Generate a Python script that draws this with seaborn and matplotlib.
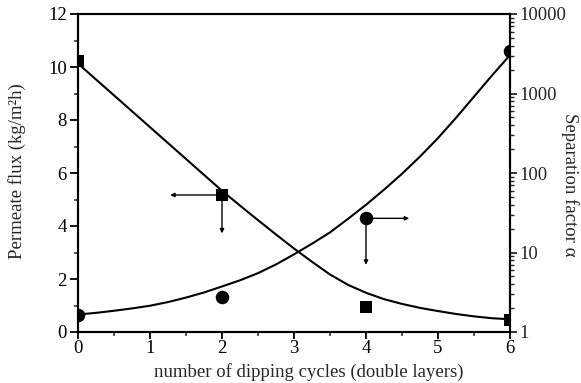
import matplotlib
matplotlib.use("Agg")
import matplotlib.pyplot as plt
import matplotlib.ticker as mticker
import numpy as np
import pandas as pd
import seaborn as sns

# ---- data ----
cycles = [0, 2, 4, 6]
flux = [10.23, 5.17, 0.95, 0.45]            # kg/m2h (squares, left axis)
sep_factor = [1.63, 2.78, 26.9, 3430]        # separation factor (circles, right axis)

# fitted curves, every 0.25 cycle
curve_x = [0, 0.25, 0.5, 0.75, 1, 1.25, 1.5, 1.75, 2, 2.25, 2.5, 2.75, 3,
           3.25, 3.5, 3.75, 4, 4.25, 4.5, 4.75, 5, 5.25, 5.5, 5.75, 6]
flux_curve = [10.13, 9.53, 8.93, 8.33, 7.73, 7.13, 6.53, 5.93, 5.33, 4.77, 4.22,
              3.68, 3.15, 2.65, 2.17, 1.78, 1.48, 1.24, 1.06, 0.91, 0.79, 0.68,
              0.59, 0.52, 0.48]
sep_curve = [1.66, 1.74, 1.85, 1.98, 2.14, 2.38, 2.71, 3.14, 3.74, 4.47, 5.50,
             7.08, 9.48, 12.9, 17.9, 26.5, 39.8, 61.7, 97.7, 161, 275, 494, 912,
             1686, 3043]

x_ticks = [0, 1, 2, 3, 4, 5, 6]
flux_ticks = [0, 2, 4, 6, 8, 10, 12]
sep_ticks = [1, 10, 100, 1000, 10000]

sns.set_style("ticks")
plt.rcParams["font.family"] = ["Liberation Serif", "DejaVu Serif"]

FS = 13.5

fig = plt.figure(figsize=(5.81, 3.83), dpi=100)
ax = fig.add_axes([78 / 581, 1 - 332 / 383, (510 - 78) / 581, (332 - 14) / 383])
ax2 = ax.twinx()

df_curve = pd.DataFrame({"x": curve_x, "flux": flux_curve, "sep": sep_curve})
df_pts = pd.DataFrame({"x": cycles, "flux": flux, "sep": sep_factor})

sns.lineplot(data=df_curve, x="x", y="flux", ax=ax, color="black", lw=1.5, sort=False)
sns.scatterplot(data=df_pts, x="x", y="flux", ax=ax, marker="s", s=80, color="black",
                edgecolor="black", linewidth=0, zorder=5)

sns.lineplot(data=df_curve, x="x", y="sep", ax=ax2, color="black", lw=1.5, sort=False)
sns.scatterplot(data=df_pts, x="x", y="sep", ax=ax2, marker="o", s=95, color="black",
                edgecolor="black", linewidth=0, zorder=5)

# limits / scales
ax.set_xlim(0, 6)
ax.set_ylim(0, 12)
ax2.set_yscale("log")
ax2.set_ylim(1, 10000)

ax.set_xticks(x_ticks)
ax.set_xticklabels([str(v) for v in x_ticks])
ax.xaxis.set_minor_locator(mticker.MultipleLocator(0.5))
ax.set_yticks(flux_ticks)
ax.set_yticklabels([str(v) for v in flux_ticks])
ax.yaxis.set_minor_locator(mticker.MultipleLocator(1))

ax2.set_yticks(sep_ticks)
ax2.set_yticklabels([str(v) for v in sep_ticks])
ax2.yaxis.set_minor_locator(mticker.LogLocator(base=10, subs=np.arange(2, 10)))
ax2.yaxis.set_minor_formatter(mticker.NullFormatter())

for a in (ax, ax2):
    for sp in a.spines.values():
        sp.set_visible(True)
        sp.set_linewidth(1.5)
        sp.set_color("black")

ax.tick_params(axis="both", which="major", direction="out", length=6, width=1.3,
               labelsize=FS, colors="black", pad=2)
ax.tick_params(axis="both", which="minor", direction="out", length=3, width=1.1)
ax.tick_params(axis="x", which="major", length=5, pad=1)
ax2.tick_params(axis="y", which="major", direction="out", length=5, width=1.3,
                labelsize=FS, pad=2)
ax2.tick_params(axis="y", which="minor", direction="out", length=3, width=1.0)

ax.set_xlabel("number of dipping cycles (double layers)", fontsize=FS, va="center")
ax.xaxis.set_label_coords(0.535, -0.126)
ax.set_ylabel("Permeate flux (kg/m²h)", fontsize=FS, va="center", ha="center")
ax.yaxis.set_label_coords(-0.141, 0.505)
ax2.set_ylabel("Separation factor α", fontsize=FS, rotation=270, va="center", ha="center")
ax2.yaxis.set_label_coords(1.139, 0.464)

# arrows indicating which axis each series belongs to
arrow_kw = dict(arrowstyle="-|>", lw=1.0, color="black", mutation_scale=6,
                shrinkA=0, shrinkB=0)
ax.annotate("", xy=(1.28, flux[1]), xytext=(cycles[1], flux[1]), arrowprops=arrow_kw)
ax.annotate("", xy=(cycles[1], 3.72), xytext=(cycles[1], flux[1]), arrowprops=arrow_kw)
ax2.annotate("", xy=(4.6, sep_factor[2]), xytext=(cycles[2], sep_factor[2]), arrowprops=arrow_kw)
ax2.annotate("", xy=(cycles[2], 7.0), xytext=(cycles[2], sep_factor[2]), arrowprops=arrow_kw)

fig.savefig("out.png", dpi=100)
